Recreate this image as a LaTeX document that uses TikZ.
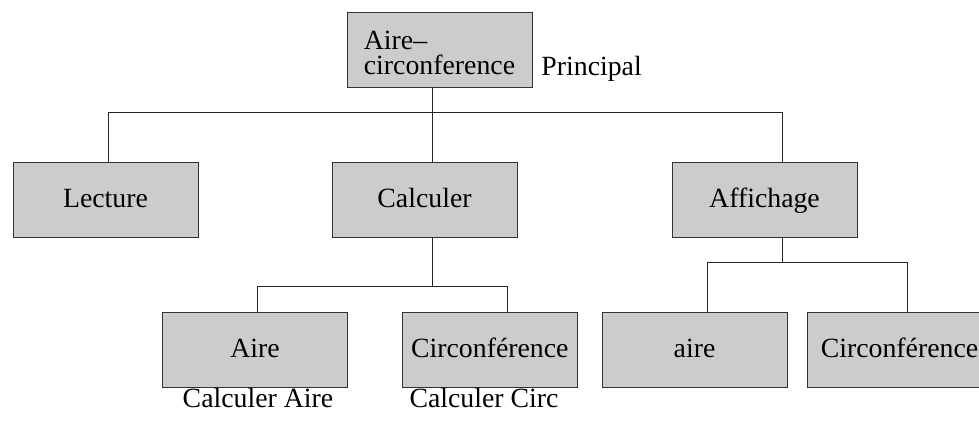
\documentclass[tikz,border=0pt]{standalone}
\usepackage{fontspec}
\setmainfont{Liberation Serif}
\begin{document}
\begin{tikzpicture}[x=0.5pt,y=-0.5pt,
  every node/.style={font=\fontsize{13.9}{12.5}\selectfont},
  box/.style={rectangle, draw=black!80, fill=black!20, line width=0.5pt,
    minimum width=92.5pt, minimum height=37.5pt, inner sep=0pt,
    text height=9.5pt, text depth=2pt},
  topbox/.style={rectangle, draw=black!80, fill=black!20, line width=0.5pt,
    minimum width=92.5pt, minimum height=37.5pt, inner sep=0pt, align=left,
    text height=24.5pt, text depth=0pt},
  link/.style={draw=black!85, line width=0.5pt},
  lbl/.style={inner sep=0pt, anchor=base}]
\useasboundingbox (0,0) rectangle (979,420);
% nodes
\node[topbox] (top) at (439.5,49.5) {Aire–\\circonference};
\node[lbl, anchor=base west] (prin) at (541,75) {Principal};
\node[box] (lec) at (105.5,199.5) {Lecture};
\node[box] (cal) at (424.5,199.5) {Calculer};
\node[box] (aff) at (764.5,199.5) {Affichage};
\node[box] (aire) at (255,349.5) {Aire};
\node[box, minimum width=87.5pt] (circ) at (489.8,349.5) {Circonférence};
\node[box] (aire2) at (694.5,349.5) {aire};
\node[box] (circ2) at (899.5,349.5) {Circonférence};
\node[lbl] (la) at (258,407) {Calculer Aire};
\node[lbl] (lc) at (484,407) {Calculer Circ};
% bus coordinates
\coordinate (b1) at (432,112);
\coordinate (b2) at (432,286);
\coordinate (b3) at (782,262);
% connectors
\draw[link] (432,0 |- top.south) -- (b1);
\draw[link] (b1) -| (108,0 |- lec.north);
\draw[link] (b1) -- (432,0 |- cal.north);
\draw[link] (b1) -| (782,0 |- aff.north);
\draw[link] (432,0 |- cal.south) -- (b2);
\draw[link] (b2) -| (257,0 |- aire.north);
\draw[link] (b2) -| (507,0 |- circ.north);
\draw[link] (782,0 |- aff.south) -- (b3);
\draw[link] (b3) -| (707,0 |- aire2.north);
\draw[link] (b3) -| (907,0 |- circ2.north);
\end{tikzpicture}
\end{document}
